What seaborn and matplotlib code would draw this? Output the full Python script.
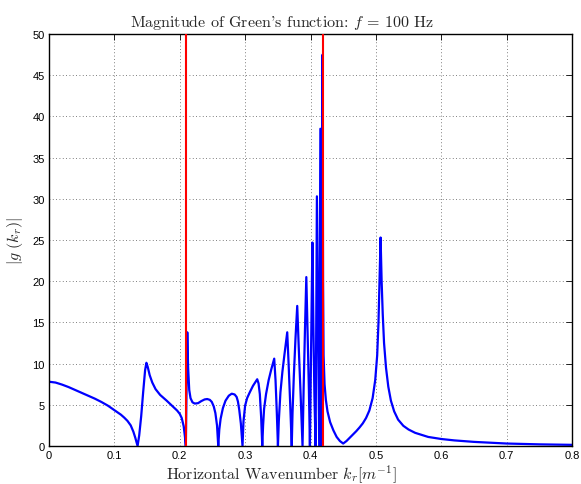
import matplotlib
matplotlib.use("Agg")
import matplotlib.pyplot as plt
import seaborn as sns
import pandas as pd

kr = [0.000, 0.010, 0.020, 0.030, 0.040, 0.050, 0.060, 0.070, 0.080, 0.090,
      0.100, 0.110, 0.115, 0.120, 0.125, 0.129, 0.132, 0.1355, 0.138, 0.141,
      0.144, 0.147, 0.149, 0.151, 0.154, 0.158, 0.163, 0.170, 0.180, 0.190,
      0.196, 0.200, 0.203, 0.206, 0.208, 0.2093, 0.2105, 0.2115, 0.2128, 0.2145,
      0.2165, 0.2195, 0.2230, 0.2280, 0.2330, 0.2380, 0.2420, 0.2460, 0.2490, 0.2520,
      0.2545, 0.2570, 0.2589, 0.2605, 0.2625, 0.2660, 0.2700, 0.2750, 0.2795, 0.2840,
      0.2870, 0.2890, 0.2910, 0.2935, 0.2960, 0.2975, 0.3000, 0.3030, 0.3070, 0.3120,
      0.3160, 0.3185, 0.3205, 0.3225, 0.3245, 0.3262, 0.3275, 0.3290, 0.3320, 0.3360,
      0.3400, 0.3445, 0.3465, 0.3485, 0.3502, 0.3515, 0.3540, 0.3570, 0.3600, 0.3644,
      0.3665, 0.3690, 0.3713, 0.3725, 0.3745, 0.3770, 0.3797, 0.3820, 0.3850, 0.3878,
      0.3895, 0.3915, 0.3936, 0.3955, 0.3975, 0.3991, 0.4005, 0.4018, 0.4029, 0.4045,
      0.4060, 0.4078, 0.4088, 0.4098, 0.4110, 0.4122, 0.4133, 0.4142, 0.4151, 0.4160,
      0.4170, 0.4178, 0.4185, 0.4192, 0.4200, 0.4215, 0.4235, 0.4260, 0.4300, 0.4350,
      0.4400, 0.4450, 0.4500, 0.4550, 0.4600, 0.4650, 0.4700, 0.4750, 0.4800, 0.4850,
      0.4900, 0.4950, 0.4990, 0.5020, 0.5040, 0.5055, 0.5072, 0.5088, 0.5105, 0.5125,
      0.5155, 0.5190, 0.5230, 0.5280, 0.5340, 0.5420, 0.5500, 0.5600, 0.5800, 0.6000,
      0.6200, 0.6500, 0.7000, 0.7500, 0.8000]

g_mag = [7.80, 7.70, 7.45, 7.15, 6.80, 6.45, 6.10, 5.75, 5.35, 4.90,
         4.35, 3.80, 3.45, 3.05, 2.50, 1.75, 1.00, 0.00, 1.30, 3.60,
         6.50, 9.20, 10.10, 9.60, 8.60, 7.70, 6.90, 6.20, 5.50, 4.75,
         4.30, 3.90, 3.40, 2.40, 1.10, 0.00, 8.00, 13.80, 9.50, 6.80,
         5.80, 5.30, 5.15, 5.20, 5.45, 5.65, 5.70, 5.60, 5.35, 4.80,
         4.00, 2.50, 0.00, 2.00, 3.30, 4.60, 5.50, 6.10, 6.35, 6.25,
         5.95, 5.40, 4.40, 2.70, 0.00, 3.00, 4.90, 5.80, 6.50, 7.30,
         7.80, 8.10, 7.60, 6.30, 3.50, 0.00, 2.50, 4.50, 6.30, 8.00,
         9.30, 10.60, 8.00, 4.00, 0.00, 3.00, 6.50, 9.00, 11.00, 13.80,
         10.00, 5.00, 0.00, 4.00, 8.50, 13.00, 17.00, 12.00, 6.00, 0.00,
         7.00, 14.00, 20.50, 14.00, 7.00, 0.00, 9.00, 17.00, 24.70, 14.00,
         6.00, 0.00, 14.00, 30.30, 20.00, 9.00, 0.00, 18.00, 38.50, 20.00,
         0.00, 22.00, 47.50, 20.00, 11.00, 7.50, 5.60, 4.20, 2.90, 1.90,
         1.10, 0.60, 0.30, 0.60, 1.00, 1.40, 1.80, 2.25, 2.75, 3.40,
         4.30, 5.80, 8.00, 11.00, 15.00, 20.00, 25.30, 20.00, 16.00, 12.50,
         9.50, 7.20, 5.50, 4.20, 3.20, 2.45, 2.00, 1.60, 1.10, 0.85,
         0.68, 0.50, 0.30, 0.20, 0.14]

cutoff_kr = [0.2094, 0.4189]

x_ticks = [0, 0.1, 0.2, 0.3, 0.4, 0.5, 0.6, 0.7, 0.8]
x_tick_labels = ["0", "0.1", "0.2", "0.3", "0.4", "0.5", "0.6", "0.7", "0.8"]
y_ticks = [0, 5, 10, 15, 20, 25, 30, 35, 40, 45, 50]

df = pd.DataFrame({"kr": kr, "g": g_mag})

sns.set_style("white")
plt.rcParams["mathtext.fontset"] = "cm"
plt.rcParams["font.family"] = ["Liberation Sans", "DejaVu Sans"]

fig = plt.figure(figsize=(5.81, 4.85), dpi=100)
ax = fig.add_axes([49 / 581, 38 / 485, 523 / 581, 412 / 485])

sns.lineplot(data=df, x="kr", y="g", ax=ax, color=(0, 0, 1), linewidth=1.6,
             sort=False, estimator=None)
for c in cutoff_kr:
    ax.axvline(c, color=(1, 0, 0), linewidth=1.5, zorder=3)

ax.set_xlim(0, 0.8)
ax.set_ylim(0, 50)
ax.set_xticks(x_ticks)
ax.set_xticklabels(x_tick_labels)
ax.set_yticks(y_ticks)
ax.grid(True, linestyle=(0, (1, 3)), color="#555555", linewidth=0.6)
ax.set_axisbelow(True)
ax.tick_params(direction="in", length=4, width=0.6, top=True, right=True,
               labelsize=8, colors="black", pad=3)
for s in ax.spines.values():
    s.set_color("black")
    s.set_linewidth(1.0)
    s.set_visible(True)

ax.set_title("Magnitude of Green's function: $f$ = 100 Hz",
             fontfamily="cmr10", fontsize=11.5, pad=6, x=0.445)
ax.set_xlabel("Horizontal Wavenumber $k_r[m^{-1}]$", fontfamily="cmr10",
              fontsize=11.5)
ax.xaxis.set_label_coords(0.445, -0.042)
ax.set_ylabel(r"$\left|g\ (k_r)\right|$", fontsize=11.5)
ax.yaxis.set_label_coords(-0.046, 0.5)

fig.savefig("out.png", dpi=100)
